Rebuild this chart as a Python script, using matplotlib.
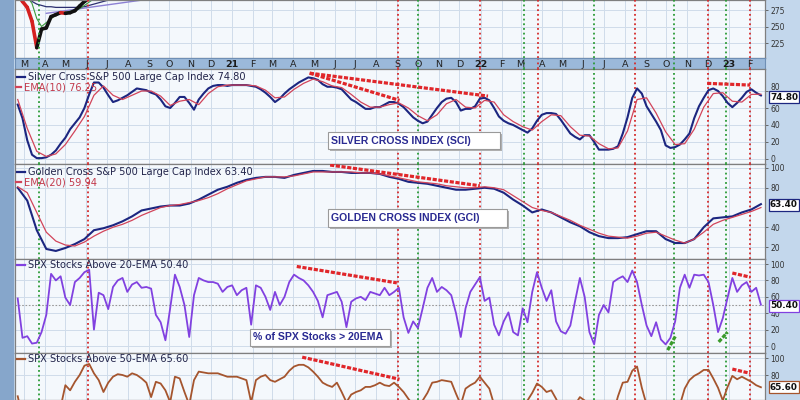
import numpy as np
import pandas as pd
import matplotlib
matplotlib.use("Agg")
import matplotlib.pyplot as plt
import matplotlib.dates as mdates
import matplotlib.transforms as mtransforms
from matplotlib.patches import Rectangle
from matplotlib.lines import Line2D

W, H = 800, 400
LEFT, RIGHT = 15, 765

# weekly closes, 2020-02-21 .. 2023-02-17
weeks = pd.date_range("2020-02-21", periods=157, freq="7D")
weeks2 = weeks[::2]

sci = [64, 48, 22, 5, 1, 1, 2, 5, 10, 18,
       25, 35, 42, 49, 60, 76, 90, 90, 84, 75,
       67, 69, 72, 75, 79, 83, 82, 81, 78, 76,
       70, 62, 60, 66, 73, 73, 66, 58, 70, 77,
       83, 86, 87, 87, 86, 87, 87, 87, 87, 86,
       85, 82, 78, 73, 67, 71, 77, 82, 86, 90,
       93, 96, 95, 93, 88, 85, 85, 84, 82, 76,
       70, 67, 63, 59, 59, 61, 61, 64, 67, 67,
       65, 61, 55, 49, 45, 42, 44, 52, 60, 67,
       71, 72, 67, 57, 59, 59, 62, 71, 72, 69,
       60, 50, 45, 42, 40, 37, 34, 31, 36, 45,
       52, 54, 54, 53, 46, 38, 30, 26, 23, 28,
       28, 20, 11, 11, 11, 12, 15, 30, 49, 72,
       83, 77, 62, 53, 44, 34, 16, 13, 14, 17,
       23, 30, 48, 62, 72, 81, 83, 80, 74, 66,
       61, 66, 72, 79, 82, 78, 74.8]
sci_ema10 = [70, 36, 9, 3, 6, 17, 33, 50, 75, 86,
             75, 70, 75, 80, 80, 74, 63, 68, 70, 64,
             77, 85, 87, 87, 87, 86, 81, 72, 73, 82,
             89, 94, 91, 86, 84, 76, 67, 61, 61, 64,
             66, 60, 51, 45, 52, 65, 70, 61, 60, 69,
             67, 52, 44, 38, 34, 44, 52, 51, 38, 28,
             27, 18, 12, 13, 33, 70, 72, 54, 32, 17,
             18, 35, 61, 77, 78, 68, 67, 76, 76.25]

gci = [80, 67, 37, 18, 16, 19, 23, 28, 37, 39,
       42, 46, 51, 57, 59, 61, 62, 62, 64, 68,
       73, 78, 81, 85, 88, 90, 91, 91, 90, 93,
       95, 97, 97, 96, 96, 95, 95, 95, 94, 91,
       89, 86, 85, 84, 82, 80, 78, 78, 79, 80,
       79, 75, 68, 62, 55, 58, 55, 50, 45, 41,
       35, 31, 29, 29, 30, 33, 36, 36, 28, 24,
       24, 28, 40, 49, 50, 51, 55, 58, 63.4]
gci_ema20 = [81, 75, 55, 35, 26, 22, 21, 25, 31, 36,
             40, 43, 47, 52, 56, 60, 62, 63, 65, 67,
             70, 74, 79, 83, 87, 89, 91, 91, 91, 92,
             94, 96, 96, 96, 96, 96, 95, 95, 94, 92,
             90, 88, 86, 85, 84, 82, 81, 80, 80, 81,
             80, 78, 72, 66, 60, 57, 55, 51, 47, 42,
             38, 34, 31, 30, 29, 31, 34, 35, 31, 27,
             24, 28, 35, 43, 47, 50, 53, 56, 59.94]

above20 = [58, 10, 12, 3, 4, 17, 38, 88, 80, 85,
           59, 50, 78, 83, 90, 93, 20, 65, 62, 45,
           72, 80, 83, 66, 75, 78, 71, 72, 70, 38,
           29, 7, 46, 87, 72, 50, 11, 62, 83, 80,
           78, 78, 76, 66, 72, 74, 62, 68, 71, 26,
           74, 71, 60, 44, 66, 50, 60, 78, 87, 83,
           80, 74, 66, 55, 35, 62, 64, 66, 54, 23,
           54, 58, 60, 56, 66, 64, 62, 71, 62, 66,
           71, 35, 16, 30, 22, 46, 71, 83, 66, 72,
           68, 62, 40, 11, 46, 66, 75, 84, 55, 59,
           26, 13, 30, 41, 17, 13, 46, 29, 66, 90,
           71, 55, 68, 30, 18, 15, 25, 55, 83, 60,
           17, 2, 38, 50, 41, 78, 82, 85, 78, 92,
           78, 50, 25, 12, 29, 8, 2, 10, 30, 71,
           87, 71, 87, 86, 87, 78, 50, 17, 34, 59,
           83, 66, 74, 78, 66, 71, 50.4]

above50 = [55, 30, 12, 4, 2, 3, 8, 25, 35, 42,
           68, 62, 72, 80, 91, 93, 82, 74, 60, 71,
           78, 81, 80, 78, 82, 80, 76, 71, 54, 72,
           70, 62, 48, 78, 76, 60, 45, 74, 84, 83,
           82, 82, 82, 80, 78, 78, 78, 76, 74, 48,
           74, 78, 80, 74, 72, 75, 78, 85, 90, 92,
           92, 89, 84, 78, 71, 68, 66, 71, 60, 48,
           57, 60, 62, 66, 66, 68, 71, 68, 67, 71,
           66, 60, 52, 45, 42, 50, 59, 71, 72, 74,
           73, 72, 58, 45, 64, 68, 71, 78, 71, 64,
           45, 38, 40, 42, 35, 30, 38, 50, 59, 70,
           66, 60, 62, 52, 40, 35, 30, 45, 54, 50,
           30, 12, 15, 18, 20, 35, 55, 71, 72, 85,
           90, 65, 45, 35, 30, 20, 10, 12, 20, 45,
           64, 74, 79, 82, 86, 86, 76, 65, 50, 66,
           79, 75, 78, 75, 72, 68, 65.6]

# price panel (only the start of 2020 is inside the visible window)
price = [300, 288, 279, 258, 218, 246, 248, 265, 268, 271, 270, 271, 274, 281, 288, 293, 300]
ma_navy = [288, 284, 282, 280, 280, 279, 279, 279, 279, 279, 279, 280, 282, 284, 286, 288, 290, 292]
ma_purple = [270, 271, 272, 273, 274, 275, 276, 277, 278, 279, 280, 281,
             282, 283, 284, 285, 286, 287, 288, 289, 290, 291]
ma_green = [295, 285, 262, 250, 256, 262, 267, 270, 272, 273, 275, 277, 282, 287, 292]

green_lines = ["2020-03-23", "2021-10-01", "2022-03-06", "2022-06-17", "2022-10-12", "2022-12-28"]
red_lines = ["2020-06-03", "2021-09-02", "2021-12-31", "2022-03-27", "2022-08-16", "2022-12-01", "2023-02-01"]

# divergence trend lines: (start date, end date, start value, end value)
sci_div = [("2021-04-25", "2021-09-04", 101, 69), ("2021-04-25", "2022-01-12", 101, 74),
           ("2022-11-30", "2023-02-01", 89, 87)]
gci_div = [("2021-05-25", "2021-12-31", 103, 82)]
a20_div = [("2021-04-06", "2021-08-31", 97, 77), ("2023-01-06", "2023-02-01", 89, 84)]
a20_up = [("2022-10-03", "2022-10-15", -5, 13), ("2022-12-17", "2022-12-30", 5, 17)]
a50_div = [("2021-04-14", "2021-09-04", 101, 75), ("2023-01-06", "2023-02-01", 87, 82)]

PLOT_BG = "#f4f8fc"
GRID = "#cfdcea"
NAVY = "#1c2680"
EMA_RED = "#d2445a"
PURPLE = "#8141e0"
BROWN = "#a5552e"
SIG_RED = "#d42a2a"
SIG_GREEN = "#2a9a36"

def d(s):
    return mdates.date2num(pd.Timestamp(s).to_pydatetime())

wx = mdates.date2num(weeks.to_pydatetime())
wx2 = wx[::2]
months = pd.date_range("2020-03-01", "2023-02-01", freq="MS")
mx = mdates.date2num(months.to_pydatetime())
XMIN, XMAX = d("2020-02-17"), d("2023-02-23")

def fx(x):
    return x / W

def fy(y):
    return 1 - y / H

fig = plt.figure(figsize=(8, 4), dpi=100)
fig.patch.set_facecolor("#c3d7ec")
fig.add_artist(Rectangle((0, 0), fx(14), 1, transform=fig.transFigure,
                         facecolor="#86a6cb", edgecolor="none", zorder=0))


def make_ax(top, bottom, ylim, yticks):
    ax = fig.add_axes([fx(LEFT), fy(bottom), (RIGHT - LEFT) / W, (bottom - top) / H])
    ax.set_facecolor(PLOT_BG)
    ax.set_xlim(XMIN, XMAX)
    ax.set_ylim(*ylim)
    ax.set_xticks(mx)
    ax.set_yticks(yticks)
    ax.grid(True, color=GRID, lw=0.7)
    ax.set_axisbelow(True)
    ax.yaxis.tick_right()
    ax.tick_params(axis="x", length=0, labelbottom=False)
    ax.tick_params(axis="y", length=2, width=0.6, pad=2, labelsize=5.5,
                   colors="#555555", labelcolor="#333333")
    for s in ax.spines.values():
        s.set_color("#7f7f7f")
        s.set_linewidth(0.9)
    for dt in green_lines:
        ax.axvline(d(dt), color=SIG_GREEN, ls=(0, (1, 1.6)), lw=1.3, zorder=3)
    for dt in red_lines:
        ax.axvline(d(dt), color=SIG_RED, ls=(0, (1, 1.6)), lw=1.3, zorder=3)
    return ax


def trend(ax, segs, color):
    for a, b, v0, v1 in segs:
        ax.plot([d(a), d(b)], [v0, v1], color=color, lw=2.3,
                ls=(0, (1.3, 0.5)), solid_capstyle="butt", zorder=5)


# --- price panel
axp = make_ax(0, 58, (202.3, 290.2), [225, 250, 275])
axp.plot(wx[3:21], ma_navy, color="#2d2f70", lw=0.9)
axp.plot(wx[6:28], ma_purple, color="#8c80d4", lw=1.0)
axp.plot(wx[2:17], ma_green, color="#3d9a3d", lw=0.8)
for i in range(len(price) - 1):
    c = "#d42020" if price[i + 1] < price[i] else "#111111"
    axp.plot(wx[i:i + 2], price[i:i + 2], color=c, lw=2.6, solid_capstyle="round")

# --- month band
axb = fig.add_axes([fx(LEFT), fy(69), (RIGHT - LEFT) / W, 11 / H])
axb.set_facecolor("#9bb9da")
axb.set_xlim(XMIN, XMAX)
axb.set_ylim(0, 1)
axb.set_xticks([])
axb.set_yticks([])
for s in axb.spines.values():
    s.set_color("#6f8fb5")
for dt in green_lines:
    axb.axvline(d(dt), color=SIG_GREEN, ls=(0, (1, 1.6)), lw=1.3)
for dt in red_lines:
    axb.axvline(d(dt), color=SIG_RED, ls=(0, (1, 1.6)), lw=1.3)
for m, x in zip(months, mx):
    if m.month == 1:
        axb.text(x, 0.45, m.strftime("%y"), ha="center", va="center",
                 fontsize=6.8, fontweight="bold", color="#1a1a1a")
    else:
        axb.text(x, 0.45, m.strftime("%b")[0], ha="center", va="center",
                 fontsize=6.8, color="#222222")

# --- silver cross
axs = make_ax(69, 164, (-5.9, 105.9), [0, 20, 40, 60, 80])
axs.plot(wx, sci, color=NAVY, lw=1.5, zorder=4)
axs.plot(wx2, sci_ema10, color=EMA_RED, lw=0.9, zorder=4)
trend(axs, sci_div, "#e0262a")
fig.canvas.draw()
lab80 = axs.get_yticklabels()[-1]
lab80.set_transform(lab80.get_transform() +
                    mtransforms.ScaledTranslation(0, 3 / 72, fig.dpi_scale_trans))

# --- golden cross
axg = make_ax(164, 259, (7.85, 104.05), [20, 40, 80, 100])
axg.plot(wx2, gci, color=NAVY, lw=1.5, zorder=4)
axg.plot(wx2, gci_ema20, color=EMA_RED, lw=0.9, zorder=4)
trend(axg, gci_div, "#e0262a")

# --- % above 20-EMA
ax20 = make_ax(259, 353, (-8.5, 106.1), [0, 20, 40, 60, 80, 100])
ax20.axhline(50, color="#999999", ls=(0, (1.5, 1.5)), lw=0.8)
ax20.plot(wx, above20, color=PURPLE, lw=1.3, zorder=4)
trend(ax20, a20_div, "#e0262a")
trend(ax20, a20_up, "#3a9a2a")

# --- % above 50-EMA
ax50 = make_ax(353, 400, (50.6, 105.9), [80, 100])
ax50.plot(wx, above50, color=BROWN, lw=1.3, zorder=4)
trend(ax50, a50_div, "#e0262a")


def legend_line(y, color, text, tcolor="#22244a", x0=17, x1=25):
    fig.add_artist(Line2D([fx(x0), fx(x1)], [fy(y), fy(y)], transform=fig.transFigure,
                          color=color, lw=1.6))
    fig.text(fx(x1 + 3), fy(y), text, ha="left", va="center", fontsize=7.1,
             color=tcolor, family="DejaVu Sans")


legend_line(77, NAVY, "Silver Cross S&P 500 Large Cap Index 74.80")
legend_line(87, EMA_RED, "EMA(10) 76.25", tcolor="#c23a4c", x0=16, x1=21)
legend_line(172, NAVY, "Golden Cross S&P 500 Large Cap Index 63.40")
legend_line(182, EMA_RED, "EMA(20) 59.94", tcolor="#c23a4c", x0=16, x1=21)
legend_line(265, PURPLE, "SPX Stocks Above 20-EMA 50.40")
legend_line(359, BROWN, "SPX Stocks Above 50-EMA 65.60")


def label_box(x0, y0, x1, y1, text):
    fig.add_artist(Rectangle((fx(x0 + 2), fy(y1 + 2)), (x1 - x0) / W, (y1 - y0) / H,
                             transform=fig.transFigure, facecolor="#b0b0b0",
                             edgecolor="none", zorder=6))
    fig.add_artist(Rectangle((fx(x0), fy(y1)), (x1 - x0) / W, (y1 - y0) / H,
                             transform=fig.transFigure, facecolor="white",
                             edgecolor="#9a9a9a", lw=0.8, zorder=7))
    fig.text(fx(x0 + 3), fy((y0 + y1) / 2), text, ha="left", va="center",
             fontsize=7.6, fontweight="bold", color="#2a2a92",
             family="Liberation Sans", zorder=8)


label_box(328, 132, 500, 149, "SILVER CROSS INDEX (SCI)")
label_box(328, 209, 507, 227, "GOLDEN CROSS INDEX (GCI)")
label_box(250, 329, 390, 346, "% of SPX Stocks > 20EMA")


def value_tag(y, text, ec):
    fig.text(fx(770), fy(y), text, ha="left", va="center", fontsize=6.4,
             fontweight="bold", color="#111111", family="DejaVu Sans", zorder=9,
             bbox=dict(boxstyle="square,pad=0.12", facecolor="white",
                       edgecolor=ec, lw=0.9))


value_tag(97, "74.80", NAVY)
value_tag(205, "63.40", NAVY)
value_tag(306, "50.40", PURPLE)
value_tag(387, "65.60", BROWN)

fig.savefig("out.png", dpi=100, facecolor=fig.get_facecolor())
